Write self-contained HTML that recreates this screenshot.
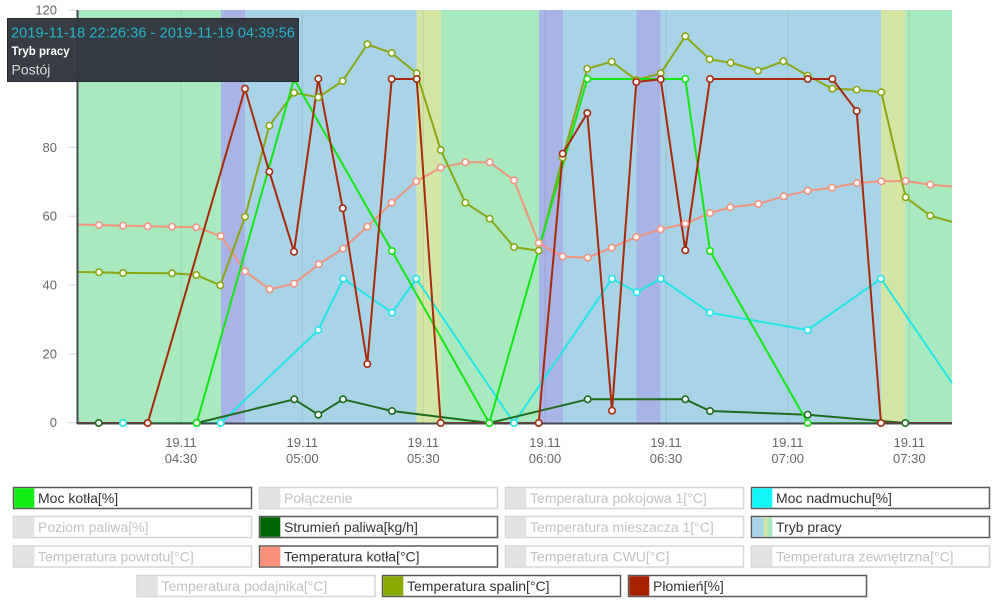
<!DOCTYPE html>
<html><head><meta charset="utf-8">
<style>
html,body{margin:0;padding:0;background:#fff;}
svg{display:block;font-family:"Liberation Sans",sans-serif;}
</style></head>
<body>
<svg width="1000" height="612" viewBox="0 0 1000 612" xmlns="http://www.w3.org/2000/svg">
<!-- bands -->
<g>
<rect x="78" y="10" width="143" height="413" fill="#a8e9c0"/>
<rect x="221" y="10" width="24" height="413" fill="#a8b4e6"/>
<rect x="245" y="10" width="171.7" height="413" fill="#a9d3e7"/>
<rect x="416.7" y="10" width="24.3" height="413" fill="#d4e6a6"/>
<rect x="441" y="10" width="98" height="413" fill="#a8e9c0"/>
<rect x="539" y="10" width="24" height="413" fill="#a8b4e6"/>
<rect x="563" y="10" width="73.5" height="413" fill="#a9d3e7"/>
<rect x="636.5" y="10" width="24.3" height="413" fill="#a8b4e6"/>
<rect x="660.8" y="10" width="220.2" height="413" fill="#a9d3e7"/>
<rect x="881" y="10" width="24.3" height="413" fill="#d4e6a6"/>
<rect x="905.3" y="10" width="46.7" height="413" fill="#a8e9c0"/>
</g>
<!-- vertical grid -->
<g stroke="rgba(0,0,0,0.08)" stroke-width="1">
<line x1="181" y1="10" x2="181" y2="423"/>
<line x1="302.3" y1="10" x2="302.3" y2="423"/>
<line x1="423.3" y1="10" x2="423.3" y2="423"/>
<line x1="545" y1="10" x2="545" y2="423"/>
<line x1="666" y1="10" x2="666" y2="423"/>
<line x1="787.7" y1="10" x2="787.7" y2="423"/>
<line x1="909.3" y1="10" x2="909.3" y2="423"/>
</g>
<!-- y ticks -->
<g stroke="#d8d8d8" stroke-width="1">
<line x1="68" y1="10" x2="77" y2="10"/>
<line x1="68" y1="78.5" x2="77" y2="78.5"/>
<line x1="68" y1="147.3" x2="77" y2="147.3"/>
<line x1="68" y1="216.2" x2="77" y2="216.2"/>
<line x1="68" y1="285" x2="77" y2="285"/>
<line x1="68" y1="353.9" x2="77" y2="353.9"/>
<line x1="68" y1="422.7" x2="77" y2="422.7"/>
</g>
<g font-size="13" fill="#666" text-anchor="end">
<text x="57" y="14.5">120</text>
<text x="57" y="152">80</text>
<text x="57" y="220.7">60</text>
<text x="57" y="289.5">40</text>
<text x="57" y="358.4">20</text>
<text x="57" y="427.2">0</text>
</g>
<!-- x labels -->
<g font-size="13" fill="#666" text-anchor="middle">
<text x="181" y="447">19.11</text><text x="181" y="463">04:30</text>
<text x="302.3" y="447">19.11</text><text x="302.3" y="463">05:00</text>
<text x="423.3" y="447">19.11</text><text x="423.3" y="463">05:30</text>
<text x="545" y="447">19.11</text><text x="545" y="463">06:00</text>
<text x="666" y="447">19.11</text><text x="666" y="463">06:30</text>
<text x="787.7" y="447">19.11</text><text x="787.7" y="463">07:00</text>
<text x="909.3" y="447">19.11</text><text x="909.3" y="463">07:30</text>
</g>

<!-- series lines -->
<g fill="none" stroke-width="2" stroke-linejoin="round">
<polyline stroke="#f0947f" points="78,224.5 99,225 123,225.7 147.7,226.3 172,226.7 196.3,227.3 220.7,236 245,271.3 269.7,289.3 294,283.7 318.7,264.3 343,248.7 367.3,226.7 391.7,202.7 416.3,181.3 440.7,167.7 465.3,162.3 489.7,162.3 514,180.3 538.7,243 562.7,256.5 587.7,257.7 611.7,247.7 636.3,237 660.7,229.3 685.3,223.7 710,213 730.3,207.3 758.3,204 783.7,196.3 807.7,190.7 832,187.7 857,183 881.3,181.3 905.7,181 930.3,184.7 952,186.5"/>
<polyline stroke="#22e6e6" points="78,423 123,423 220.7,423 318.3,330 343.3,278.7 392,312.7 416.3,278.7 514,423 612,278.7 636.7,292.3 660.7,278.7 710,312.7 807.7,330 881,278.7 952,383"/>
<polyline stroke="#1e6b1e" points="78,423 98.7,423 196.7,423 294.3,399.3 318.3,414.7 343,399.3 392,411 489.3,423 587.7,399.3 685.3,399.3 710,411 807.7,414.7 905.3,423 952,423"/>
<polyline stroke="#8aa614" points="78,272 99,272.3 123,273 172,273.3 196.3,275 220.3,285.3 245,216.7 269.3,125.7 294,92.7 318.3,97.3 342.7,81 367.3,44.3 391.7,53 416.7,73.3 440.7,150 465.3,202.7 489.7,218.7 514,247 538.7,250.7 562.7,157.5 587.3,68.7 611.7,61.7 636.3,80 660.7,73.3 685.3,36.3 709.7,59.3 730.7,62.7 758,70.7 783.3,61.3 807.7,75.7 832.3,88.7 856.7,89.7 881.3,92.3 905.7,197.3 930.3,215.7 952,222"/>
<polyline stroke="#14e614" points="78,423 98.7,423 196.7,423 294,79 392,251 489.3,423 587.3,79 685.3,79 710,251 807.7,423 881,423 952,423"/>
<polyline stroke="#a82a0c" points="78,423 147.7,423 245,88.7 269.3,171.7 294,251.7 318.3,78.7 342.7,208.3 367.3,364 391.7,79 416.7,79 440.7,423 538.7,423 562.7,153.7 587.3,113 612,410.7 636.3,82 660.7,79.3 685.3,250.3 710,79 807.7,79 832.3,79 856.7,111 881,423 952,423"/>
</g>
<!-- axes -->
<line x1="77.5" y1="10" x2="77.5" y2="424" stroke="#454a50" stroke-width="2"/>
<line x1="77" y1="423.5" x2="952" y2="423.5" stroke="#454a50" stroke-width="2"/>

<!-- markers -->
<g fill="#fff" stroke-width="1.6">
<g stroke="#f0947f">
<circle cx="99" cy="225" r="3.2"/><circle cx="123" cy="225.7" r="3.2"/><circle cx="147.7" cy="226.3" r="3.2"/><circle cx="172" cy="226.7" r="3.2"/><circle cx="196.3" cy="227.3" r="3.2"/><circle cx="220.7" cy="236" r="3.2"/><circle cx="245" cy="271.3" r="3.2"/><circle cx="269.7" cy="289.3" r="3.2"/><circle cx="294" cy="283.7" r="3.2"/><circle cx="318.7" cy="264.3" r="3.2"/><circle cx="343" cy="248.7" r="3.2"/><circle cx="367.3" cy="226.7" r="3.2"/><circle cx="391.7" cy="202.7" r="3.2"/><circle cx="416.3" cy="181.3" r="3.2"/><circle cx="440.7" cy="167.7" r="3.2"/><circle cx="465.3" cy="162.3" r="3.2"/><circle cx="489.7" cy="162.3" r="3.2"/><circle cx="514" cy="180.3" r="3.2"/><circle cx="538.7" cy="243" r="3.2"/><circle cx="562.7" cy="256.5" r="3.2"/><circle cx="587.7" cy="257.7" r="3.2"/><circle cx="611.7" cy="247.7" r="3.2"/><circle cx="636.3" cy="237" r="3.2"/><circle cx="660.7" cy="229.3" r="3.2"/><circle cx="685.3" cy="223.7" r="3.2"/><circle cx="710" cy="213" r="3.2"/><circle cx="730.3" cy="207.3" r="3.2"/><circle cx="758.3" cy="204" r="3.2"/><circle cx="783.7" cy="196.3" r="3.2"/><circle cx="807.7" cy="190.7" r="3.2"/><circle cx="832" cy="187.7" r="3.2"/><circle cx="857" cy="183" r="3.2"/><circle cx="881.3" cy="181.3" r="3.2"/><circle cx="905.7" cy="181" r="3.2"/><circle cx="930.3" cy="184.7" r="3.2"/>
</g>
<g stroke="#22e6e6">
<circle cx="123" cy="423" r="3.2"/><circle cx="220.7" cy="423" r="3.2"/><circle cx="318.3" cy="330" r="3.2"/><circle cx="343.3" cy="278.7" r="3.2"/><circle cx="392" cy="312.7" r="3.2"/><circle cx="416.3" cy="278.7" r="3.2"/><circle cx="514" cy="423" r="3.2"/><circle cx="612" cy="278.7" r="3.2"/><circle cx="636.7" cy="292.3" r="3.2"/><circle cx="660.7" cy="278.7" r="3.2"/><circle cx="710" cy="312.7" r="3.2"/><circle cx="807.7" cy="330" r="3.2"/><circle cx="881" cy="278.7" r="3.2"/>
</g>
<g stroke="#1e6b1e">
<circle cx="98.7" cy="423" r="3.2"/><circle cx="196.7" cy="423" r="3.2"/><circle cx="294.3" cy="399.3" r="3.2"/><circle cx="318.3" cy="414.7" r="3.2"/><circle cx="343" cy="399.3" r="3.2"/><circle cx="392" cy="411" r="3.2"/><circle cx="489.3" cy="423" r="3.2"/><circle cx="587.7" cy="399.3" r="3.2"/><circle cx="685.3" cy="399.3" r="3.2"/><circle cx="710" cy="411" r="3.2"/><circle cx="807.7" cy="414.7" r="3.2"/><circle cx="905.3" cy="423" r="3.2"/>
</g>
<g stroke="#8aa614">
<circle cx="99" cy="272.3" r="3.2"/><circle cx="123" cy="273" r="3.2"/><circle cx="172" cy="273.3" r="3.2"/><circle cx="196.3" cy="275" r="3.2"/><circle cx="220.3" cy="285.3" r="3.2"/><circle cx="245" cy="216.7" r="3.2"/><circle cx="269.3" cy="125.7" r="3.2"/><circle cx="294" cy="92.7" r="3.2"/><circle cx="318.3" cy="97.3" r="3.2"/><circle cx="342.7" cy="81" r="3.2"/><circle cx="367.3" cy="44.3" r="3.2"/><circle cx="391.7" cy="53" r="3.2"/><circle cx="416.7" cy="73.3" r="3.2"/><circle cx="440.7" cy="150" r="3.2"/><circle cx="465.3" cy="202.7" r="3.2"/><circle cx="489.7" cy="218.7" r="3.2"/><circle cx="514" cy="247" r="3.2"/><circle cx="538.7" cy="250.7" r="3.2"/><circle cx="562.7" cy="157.5" r="3.2"/><circle cx="587.3" cy="68.7" r="3.2"/><circle cx="611.7" cy="61.7" r="3.2"/><circle cx="636.3" cy="80" r="3.2"/><circle cx="660.7" cy="73.3" r="3.2"/><circle cx="685.3" cy="36.3" r="3.2"/><circle cx="709.7" cy="59.3" r="3.2"/><circle cx="730.7" cy="62.7" r="3.2"/><circle cx="758" cy="70.7" r="3.2"/><circle cx="783.3" cy="61.3" r="3.2"/><circle cx="807.7" cy="75.7" r="3.2"/><circle cx="832.3" cy="88.7" r="3.2"/><circle cx="856.7" cy="89.7" r="3.2"/><circle cx="881.3" cy="92.3" r="3.2"/><circle cx="905.7" cy="197.3" r="3.2"/><circle cx="930.3" cy="215.7" r="3.2"/>
</g>
<g stroke="#14e614">
<circle cx="196.7" cy="423" r="3.2"/><circle cx="294" cy="79" r="3.2"/><circle cx="392" cy="251" r="3.2"/><circle cx="489.3" cy="423" r="3.2"/><circle cx="587.3" cy="79" r="3.2"/><circle cx="685.3" cy="79" r="3.2"/><circle cx="710" cy="251" r="3.2"/><circle cx="807.7" cy="423" r="3.2"/>
</g>
<g stroke="#a82a0c">
<circle cx="147.7" cy="423" r="3.2"/><circle cx="245" cy="88.7" r="3.2"/><circle cx="269.3" cy="171.7" r="3.2"/><circle cx="294" cy="251.7" r="3.2"/><circle cx="318.3" cy="78.7" r="3.2"/><circle cx="342.7" cy="208.3" r="3.2"/><circle cx="367.3" cy="364" r="3.2"/><circle cx="391.7" cy="79" r="3.2"/><circle cx="416.7" cy="79" r="3.2"/><circle cx="440.7" cy="423" r="3.2"/><circle cx="538.7" cy="423" r="3.2"/><circle cx="562.7" cy="153.7" r="3.2"/><circle cx="587.3" cy="113" r="3.2"/><circle cx="612" cy="410.7" r="3.2"/><circle cx="636.3" cy="82" r="3.2"/><circle cx="660.7" cy="79.3" r="3.2"/><circle cx="685.3" cy="250.3" r="3.2"/><circle cx="710" cy="79" r="3.2"/><circle cx="807.7" cy="79" r="3.2"/><circle cx="832.3" cy="79" r="3.2"/><circle cx="856.7" cy="111" r="3.2"/><circle cx="881" cy="423" r="3.2"/>
</g>
</g>

<!-- tooltip -->
<rect x="7.5" y="18.5" width="291" height="63" fill="#32363e" stroke="#23262b" stroke-width="1" opacity="0.97"/>
<text x="11" y="37.5" font-size="14.5" fill="#25b6cc" textLength="284" lengthAdjust="spacingAndGlyphs">2019-11-18 22:26:36 - 2019-11-19 04:39:56</text>
<text x="11.5" y="55" font-size="11.5" font-weight="bold" fill="#ffffff">Tryb pracy</text>
<text x="11.5" y="74.5" font-size="14" fill="#dcdcdc">Postój</text>

<!-- legend -->
<defs>
<linearGradient id="tryb" x1="0" x2="1" y1="0" y2="0">
<stop offset="0" stop-color="#a9d3e7"/>
<stop offset="0.55" stop-color="#a9d3e7"/>
<stop offset="0.6" stop-color="#d4e6a6"/>
<stop offset="0.75" stop-color="#d4e6a6"/>
<stop offset="0.78" stop-color="#a8e9c0"/>
<stop offset="1" stop-color="#a8e9c0"/>
</linearGradient>
</defs>
<g font-size="14">
<!-- row 1 -->
<rect x="13.5" y="487.5" width="238" height="21" fill="#fff" stroke="#5a5a5a" stroke-width="1.5"/>
<rect x="14.3" y="488.3" width="20" height="19.4" fill="#11ee11"/>
<text x="38" y="503" fill="#333">Moc kotła[%]</text>

<rect x="259.5" y="487.5" width="238" height="21" fill="#fff" stroke="#d6d6d6" stroke-width="1.5"/>
<rect x="260.3" y="488.3" width="20" height="19.4" fill="#e2e2e2"/>
<text x="284" y="503" fill="#c2c2c2">Połączenie</text>

<rect x="505.5" y="487.5" width="238" height="21" fill="#fff" stroke="#d6d6d6" stroke-width="1.5"/>
<rect x="506.3" y="488.3" width="20" height="19.4" fill="#e2e2e2"/>
<text x="530" y="503" fill="#c2c2c2">Temperatura pokojowa 1[°C]</text>

<rect x="751.5" y="487.5" width="238" height="21" fill="#fff" stroke="#5a5a5a" stroke-width="1.5"/>
<rect x="752.3" y="488.3" width="20" height="19.4" fill="#11f5f5"/>
<text x="776" y="503" fill="#333">Moc nadmuchu[%]</text>

<!-- row 2 -->
<rect x="13.5" y="516.5" width="238" height="21" fill="#fff" stroke="#d6d6d6" stroke-width="1.5"/>
<rect x="14.3" y="517.3" width="20" height="19.4" fill="#e2e2e2"/>
<text x="38" y="532" fill="#c2c2c2">Poziom paliwa[%]</text>

<rect x="259.5" y="516.5" width="238" height="21" fill="#fff" stroke="#5a5a5a" stroke-width="1.5"/>
<rect x="260.3" y="517.3" width="20" height="19.4" fill="#006400"/>
<text x="284" y="532" fill="#333">Strumień paliwa[kg/h]</text>

<rect x="505.5" y="516.5" width="238" height="21" fill="#fff" stroke="#d6d6d6" stroke-width="1.5"/>
<rect x="506.3" y="517.3" width="20" height="19.4" fill="#e2e2e2"/>
<text x="530" y="532" fill="#c2c2c2">Temperatura mieszacza 1[°C]</text>

<rect x="751.5" y="516.5" width="238" height="21" fill="#fff" stroke="#5a5a5a" stroke-width="1.5"/>
<rect x="752.3" y="517.3" width="20" height="19.4" fill="url(#tryb)"/>
<text x="776" y="532" fill="#333">Tryb pracy</text>

<!-- row 3 -->
<rect x="13.5" y="546" width="238" height="21" fill="#fff" stroke="#d6d6d6" stroke-width="1.5"/>
<rect x="14.3" y="546.8" width="20" height="19.4" fill="#e2e2e2"/>
<text x="38" y="561.5" fill="#c2c2c2">Temperatura powrotu[°C]</text>

<rect x="259.5" y="546" width="238" height="21" fill="#fff" stroke="#5a5a5a" stroke-width="1.5"/>
<rect x="260.3" y="546.8" width="20" height="19.4" fill="#fa8f7a"/>
<text x="284" y="561.5" fill="#333">Temperatura kotła[°C]</text>

<rect x="505.5" y="546" width="238" height="21" fill="#fff" stroke="#d6d6d6" stroke-width="1.5"/>
<rect x="506.3" y="546.8" width="20" height="19.4" fill="#e2e2e2"/>
<text x="530" y="561.5" fill="#c2c2c2">Temperatura CWU[°C]</text>

<rect x="751.5" y="546" width="238" height="21" fill="#fff" stroke="#d6d6d6" stroke-width="1.5"/>
<rect x="752.3" y="546.8" width="20" height="19.4" fill="#e2e2e2"/>
<text x="776" y="561.5" fill="#c2c2c2">Temperatura zewnętrzna[°C]</text>

<!-- row 4 -->
<rect x="137" y="575.5" width="238" height="21" fill="#fff" stroke="#d6d6d6" stroke-width="1.5"/>
<rect x="137.8" y="576.3" width="20" height="19.4" fill="#e2e2e2"/>
<text x="161.5" y="591" fill="#c2c2c2">Temperatura podajnika[°C]</text>

<rect x="382.5" y="575.5" width="238" height="21" fill="#fff" stroke="#5a5a5a" stroke-width="1.5"/>
<rect x="383.3" y="576.3" width="20" height="19.4" fill="#88aa00"/>
<text x="407" y="591" fill="#333">Temperatura spalin[°C]</text>

<rect x="628.5" y="575.5" width="238" height="21" fill="#fff" stroke="#5a5a5a" stroke-width="1.5"/>
<rect x="629.3" y="576.3" width="20" height="19.4" fill="#a82200"/>
<text x="653" y="591" fill="#333">Płomień[%]</text>
</g>
</svg>
</body></html>
